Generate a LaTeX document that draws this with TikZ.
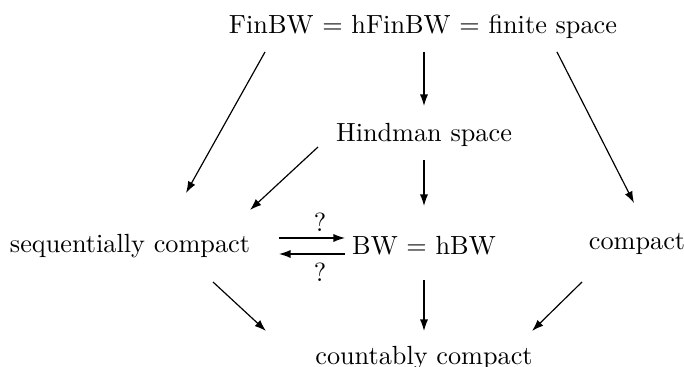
\documentclass[tikz,border=0pt]{standalone}
\usetikzlibrary{arrows.meta}
\begin{document}
\begin{tikzpicture}[x=0.381pt,y=-0.381pt,
  lbl/.style={inner sep=0pt,anchor=center},
  arr/.style={-{Latex[length=4.4pt,width=3.1pt]},line width=0.45pt}]
\useasboundingbox (0,0) rectangle (684,367);
\node[lbl] (fin) at (423,27) {FinBW $=$ hFinBW $=$ finite space};
\node[lbl] (hind) at (424,135) {Hindman space};
\node[lbl] (seq) at (130,246) {sequentially compact};
\node[lbl] (bw) at (424,246) {BW $=$ hBW};
\node[lbl] (comp) at (637,244) {compact};
\node[lbl] (cc) at (424,358) {countably compact};
\node[lbl] (q1) at (320,222) {?};
\node[lbl] (q2) at (320,272) {?};
% endpoints
\coordinate (a1s) at (265,52);  \coordinate (a1e) at (186,193);
\coordinate (a2s) at (424,52);  \coordinate (a2e) at (424,106);
\coordinate (a3s) at (557,52);  \coordinate (a3e) at (634,203);
\coordinate (a4s) at (318,147); \coordinate (a4e) at (250,210);
\coordinate (a5s) at (424,160); \coordinate (a5e) at (424,206);
\coordinate (a6s) at (279,238); \coordinate (a6e) at (345,238);
\coordinate (a7s) at (345,254); \coordinate (a7e) at (279,254);
\coordinate (a8s) at (213,282); \coordinate (a8e) at (266,331);
\coordinate (a9s) at (424,280); \coordinate (a9e) at (424,331);
\coordinate (a10s) at (582,282); \coordinate (a10e) at (532,331);
\draw[arr] (a1s) -- (a1e);
\draw[arr] (a2s) -- (a2e);
\draw[arr] (a3s) -- (a3e);
\draw[arr] (a4s) -- (a4e);
\draw[arr] (a5s) -- (a5e);
\draw[arr] (a6s) -- (a6e);
\draw[arr] (a7s) -- (a7e);
\draw[arr] (a8s) -- (a8e);
\draw[arr] (a9s) -- (a9e);
\draw[arr] (a10s) -- (a10e);
\end{tikzpicture}
\end{document}
